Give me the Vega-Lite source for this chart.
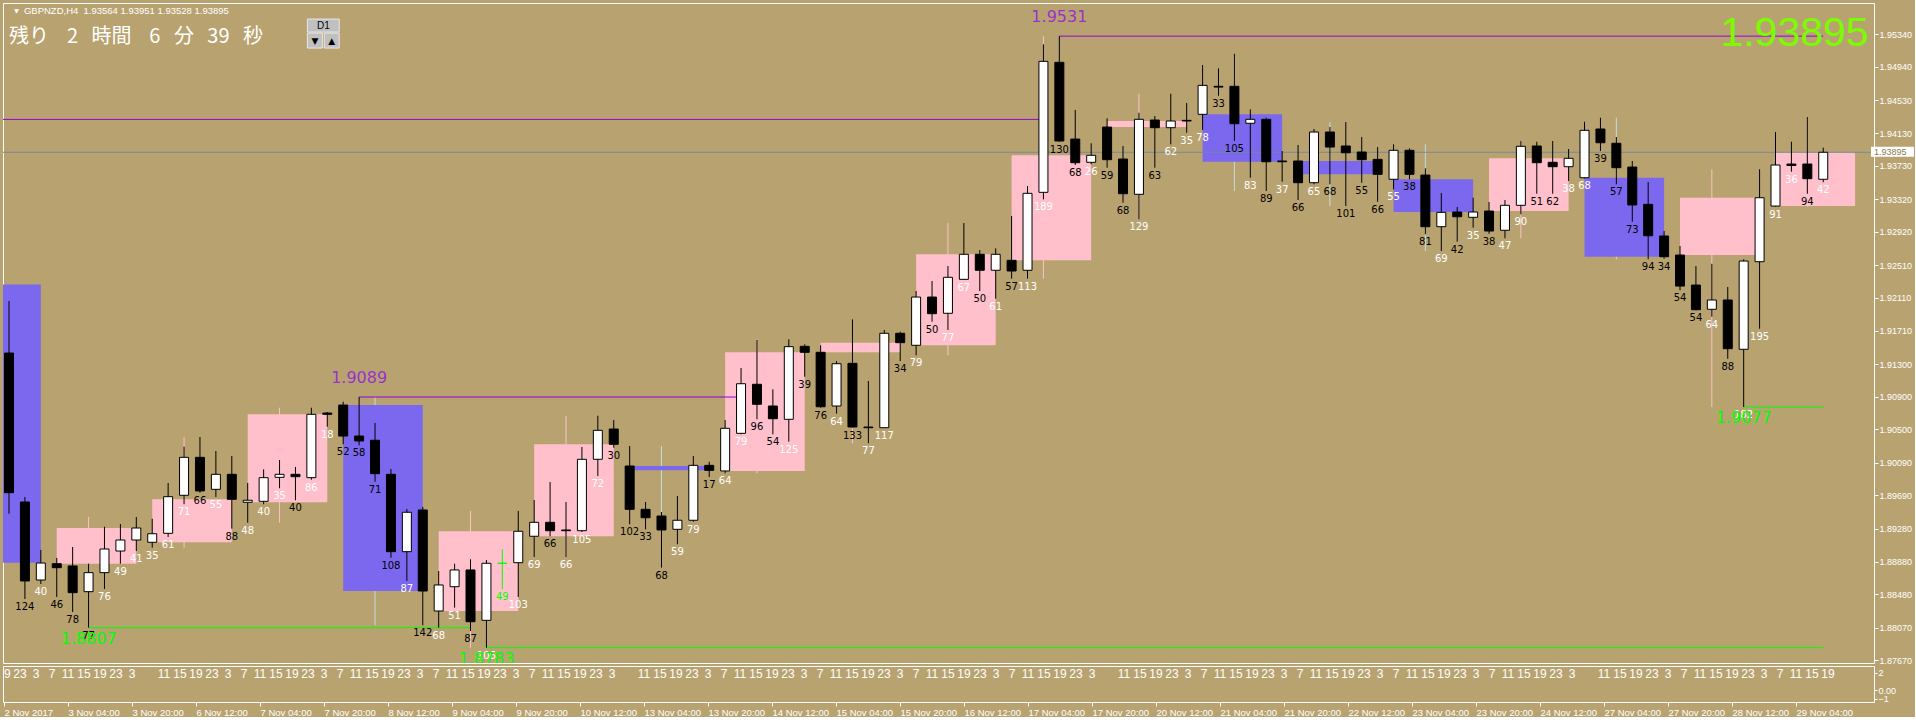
{
"$schema": "https://vega.github.io/schema/vega-lite/v6.json",
"background": "#B8A370",
"padding": {"left": 2, "top": 2, "right": 0, "bottom": 0},
"bounds": "flush",
"spacing": 3,
"config": {"view": {"stroke": "#FFFFFF", "strokeWidth": 1}, "axis": {"grid": false}},
"datasets": {
"bars": [
{"i":0,"o":1.91435,"h":1.92072,"l":1.89466,"c":1.89724},
{"i":1,"o":1.89610,"h":1.89671,"l":1.88421,"c":1.88642,"v":"124","d":"down"},
{"i":2,"o":1.88654,"h":1.89022,"l":1.88605,"c":1.88862,"v":"40","d":"up"},
{"i":3,"o":1.88854,"h":1.88924,"l":1.88446,"c":1.88805,"v":"46","d":"down"},
{"i":4,"o":1.88826,"h":1.89058,"l":1.88262,"c":1.88499,"v":"78","d":"down"},
{"i":5,"o":1.88511,"h":1.88854,"l":1.88070,"c":1.88744,"v":"77","d":"down"},
{"i":6,"o":1.88744,"h":1.89307,"l":1.88544,"c":1.89034,"v":"76","d":"up"},
{"i":7,"o":1.89009,"h":1.89340,"l":1.88854,"c":1.89144,"v":"49","d":"up"},
{"i":8,"o":1.89144,"h":1.89426,"l":1.89009,"c":1.89291,"v":"41","d":"up"},
{"i":9,"o":1.89116,"h":1.89405,"l":1.89050,"c":1.89221,"v":"35","d":"up"},
{"i":10,"o":1.89226,"h":1.89843,"l":1.89181,"c":1.89675,"v":"61","d":"up"},
{"i":11,"o":1.89692,"h":1.90287,"l":1.89582,"c":1.90157,"v":"71","d":"up"},
{"i":12,"o":1.90157,"h":1.90406,"l":1.89724,"c":1.89745,"v":"66","d":"down"},
{"i":13,"o":1.89765,"h":1.90235,"l":1.89671,"c":1.89949,"v":"55","d":"up"},
{"i":14,"o":1.89949,"h":1.90173,"l":1.89283,"c":1.89643,"v":"88","d":"down"},
{"i":15,"o":1.89606,"h":1.89843,"l":1.89356,"c":1.89631,"v":"48","d":"up"},
{"i":16,"o":1.89618,"h":1.90010,"l":1.89582,"c":1.89908,"v":"40","d":"up"},
{"i":17,"o":1.89912,"h":1.90124,"l":1.89778,"c":1.89949,"v":"35","d":"up"},
{"i":18,"o":1.89949,"h":1.90039,"l":1.89631,"c":1.89920,"v":"40","d":"down"},
{"i":19,"o":1.89908,"h":1.90765,"l":1.89883,"c":1.90684,"v":"86","d":"up"},
{"i":20,"o":1.90700,"h":1.90712,"l":1.90532,"c":1.90684,"v":"18","d":"up"},
{"i":21,"o":1.90798,"h":1.90839,"l":1.90317,"c":1.90418,"v":"52","d":"down"},
{"i":22,"o":1.90418,"h":1.90896,"l":1.90304,"c":1.90357,"v":"58","d":"down"},
{"i":23,"o":1.90366,"h":1.90578,"l":1.89859,"c":1.89957,"v":"71","d":"down"},
{"i":24,"o":1.89949,"h":1.90014,"l":1.88927,"c":1.89001,"v":"108","d":"down"},
{"i":25,"o":1.89001,"h":1.89524,"l":1.88642,"c":1.89484,"v":"87","d":"up"},
{"i":26,"o":1.89512,"h":1.89549,"l":1.88099,"c":1.88519,"v":"142","d":"down"},
{"i":27,"o":1.88274,"h":1.88764,"l":1.88070,"c":1.88593,"v":"68","d":"up"},
{"i":28,"o":1.88572,"h":1.88854,"l":1.88315,"c":1.88777,"v":"51","d":"up"},
{"i":29,"o":1.88777,"h":1.88908,"l":1.88029,"c":1.88143,"v":"87","d":"down"},
{"i":30,"o":1.88160,"h":1.88899,"l":1.87825,"c":1.88859,"v":"106","d":"up"},
{"i":31,"o":1.88859,"h":1.89030,"l":1.88540,"c":1.88859,"v":"49","d":"sig","sig":true},
{"i":32,"o":1.88866,"h":1.89500,"l":1.88446,"c":1.89251,"v":"103","d":"up"},
{"i":33,"o":1.89190,"h":1.89634,"l":1.88936,"c":1.89361,"v":"69","d":"up"},
{"i":34,"o":1.89361,"h":1.89855,"l":1.89190,"c":1.89258,"v":"66","d":"down"},
{"i":35,"o":1.89267,"h":1.89610,"l":1.88936,"c":1.89258,"v":"66","d":"up"},
{"i":36,"o":1.89258,"h":1.90284,"l":1.89242,"c":1.90133,"v":"105","d":"up"},
{"i":37,"o":1.90133,"h":1.90667,"l":1.89928,"c":1.90488,"v":"72","d":"up"},
{"i":38,"o":1.90504,"h":1.90614,"l":1.90275,"c":1.90317,"v":"30","d":"down"},
{"i":39,"o":1.90051,"h":1.90296,"l":1.89337,"c":1.89520,"v":"102","d":"down"},
{"i":40,"o":1.89520,"h":1.89610,"l":1.89275,"c":1.89417,"v":"33","d":"down"},
{"i":41,"o":1.89438,"h":1.89487,"l":1.88805,"c":1.89267,"v":"68","d":"down"},
{"i":42,"o":1.89275,"h":1.89683,"l":1.89092,"c":1.89386,"v":"59","d":"up"},
{"i":43,"o":1.89386,"h":1.90173,"l":1.89368,"c":1.90059,"v":"79","d":"up"},
{"i":44,"o":1.90059,"h":1.90103,"l":1.89916,"c":1.89998,"v":"17","d":"down"},
{"i":45,"o":1.89990,"h":1.90614,"l":1.89961,"c":1.90513,"v":"64","d":"up"},
{"i":46,"o":1.90451,"h":1.91252,"l":1.90440,"c":1.91059,"v":"79","d":"up"},
{"i":47,"o":1.91052,"h":1.91595,"l":1.90623,"c":1.90807,"v":"96","d":"down"},
{"i":48,"o":1.90786,"h":1.90991,"l":1.90439,"c":1.90630,"v":"54","d":"down"},
{"i":49,"o":1.90623,"h":1.91603,"l":1.90349,"c":1.91513,"v":"125","d":"up"},
{"i":50,"o":1.91517,"h":1.91542,"l":1.91145,"c":1.91444,"v":"39","d":"down"},
{"i":51,"o":1.91444,"h":1.91530,"l":1.90765,"c":1.90777,"v":"76","d":"down"},
{"i":52,"o":1.90786,"h":1.91337,"l":1.90692,"c":1.91304,"v":"64","d":"up"},
{"i":53,"o":1.91309,"h":1.91848,"l":1.90520,"c":1.90529,"v":"133","d":"down"},
{"i":54,"o":1.90528,"h":1.91092,"l":1.90329,"c":1.90520,"v":"77","d":"up"},
{"i":55,"o":1.90520,"h":1.91717,"l":1.90516,"c":1.91677,"v":"117","d":"up"},
{"i":56,"o":1.91677,"h":1.91696,"l":1.91337,"c":1.91562,"v":"34","d":"down"},
{"i":57,"o":1.91530,"h":1.92195,"l":1.91407,"c":1.92121,"v":"79","d":"up"},
{"i":58,"o":1.92121,"h":1.92317,"l":1.91819,"c":1.91917,"v":"50","d":"down"},
{"i":59,"o":1.91922,"h":1.92501,"l":1.91717,"c":1.92363,"v":"77","d":"up"},
{"i":60,"o":1.92338,"h":1.93028,"l":1.92330,"c":1.92645,"v":"67","d":"up"},
{"i":61,"o":1.92645,"h":1.92697,"l":1.92195,"c":1.92449,"v":"50","d":"down"},
{"i":62,"o":1.92449,"h":1.92718,"l":1.92101,"c":1.92645,"v":"61","d":"up"},
{"i":63,"o":1.92571,"h":1.93114,"l":1.92346,"c":1.92440,"v":"57","d":"down"},
{"i":64,"o":1.92449,"h":1.93481,"l":1.92346,"c":1.93392,"v":"113","d":"up"},
{"i":65,"o":1.93404,"h":1.95218,"l":1.93318,"c":1.95009,"v":"189","d":"up"},
{"i":66,"o":1.94997,"h":1.95318,"l":1.94025,"c":1.94033,"v":"130","d":"down"},
{"i":67,"o":1.94057,"h":1.94413,"l":1.93739,"c":1.93767,"v":"68","d":"down"},
{"i":68,"o":1.93772,"h":1.94005,"l":1.93747,"c":1.93858,"v":"26","d":"up"},
{"i":69,"o":1.94204,"h":1.94311,"l":1.93706,"c":1.93804,"v":"59","d":"down"},
{"i":70,"o":1.93812,"h":1.93972,"l":1.93277,"c":1.93387,"v":"68","d":"down"},
{"i":71,"o":1.93380,"h":1.94379,"l":1.93073,"c":1.94299,"v":"129","d":"up"},
{"i":72,"o":1.94290,"h":1.94339,"l":1.93706,"c":1.94196,"v":"63","d":"down"},
{"i":73,"o":1.94196,"h":1.94612,"l":1.93992,"c":1.94278,"v":"62","d":"up"},
{"i":74,"o":1.94286,"h":1.94498,"l":1.94134,"c":1.94278,"v":"35","d":"up"},
{"i":75,"o":1.94360,"h":1.94964,"l":1.94168,"c":1.94715,"v":"78","d":"up"},
{"i":76,"o":1.94703,"h":1.94923,"l":1.94588,"c":1.94694,"v":"33","d":"down"},
{"i":77,"o":1.94703,"h":1.95102,"l":1.94033,"c":1.94245,"v":"105","d":"down"},
{"i":78,"o":1.94250,"h":1.94421,"l":1.93583,"c":1.94299,"v":"83","d":"up"},
{"i":79,"o":1.94299,"h":1.94318,"l":1.93420,"c":1.93779,"v":"89","d":"down"},
{"i":80,"o":1.93788,"h":1.93910,"l":1.93534,"c":1.93779,"v":"37","d":"up"},
{"i":81,"o":1.93788,"h":1.93984,"l":1.93310,"c":1.93522,"v":"66","d":"down"},
{"i":82,"o":1.93522,"h":1.94180,"l":1.93502,"c":1.94143,"v":"65","d":"up"},
{"i":83,"o":1.94143,"h":1.94204,"l":1.93502,"c":1.93959,"v":"68","d":"down"},
{"i":84,"o":1.93972,"h":1.94265,"l":1.93236,"c":1.93889,"v":"101","d":"down"},
{"i":85,"o":1.93898,"h":1.94082,"l":1.93522,"c":1.93804,"v":"55","d":"down"},
{"i":86,"o":1.93808,"h":1.93959,"l":1.93289,"c":1.93625,"v":"66","d":"down"},
{"i":87,"o":1.93564,"h":1.93992,"l":1.93441,"c":1.93919,"v":"55","d":"up"},
{"i":88,"o":1.93919,"h":1.93943,"l":1.93564,"c":1.93625,"v":"38","d":"down"},
{"i":89,"o":1.93616,"h":1.93698,"l":1.92890,"c":1.92983,"v":"81","d":"down"},
{"i":90,"o":1.92983,"h":1.93396,"l":1.92685,"c":1.93159,"v":"69","d":"up"},
{"i":91,"o":1.93163,"h":1.93224,"l":1.92799,"c":1.93105,"v":"42","d":"down"},
{"i":92,"o":1.93098,"h":1.93338,"l":1.92971,"c":1.93163,"v":"35","d":"up"},
{"i":93,"o":1.93175,"h":1.93285,"l":1.92897,"c":1.92930,"v":"38","d":"down"},
{"i":94,"o":1.92939,"h":1.93310,"l":1.92841,"c":1.93245,"v":"47","d":"up"},
{"i":95,"o":1.93245,"h":1.94033,"l":1.93135,"c":1.93968,"v":"90","d":"up"},
{"i":96,"o":1.93972,"h":1.94024,"l":1.93387,"c":1.93767,"v":"51","d":"down"},
{"i":97,"o":1.93772,"h":1.94033,"l":1.93387,"c":1.93718,"v":"62","d":"down"},
{"i":98,"o":1.93718,"h":1.93935,"l":1.93543,"c":1.93821,"v":"38","d":"up"},
{"i":99,"o":1.93583,"h":1.94269,"l":1.93575,"c":1.94164,"v":"68","d":"up"},
{"i":100,"o":1.94180,"h":1.94318,"l":1.93910,"c":1.94012,"v":"39","d":"down"},
{"i":101,"o":1.94005,"h":1.94082,"l":1.93502,"c":1.93706,"v":"57","d":"down"},
{"i":102,"o":1.93714,"h":1.93788,"l":1.93044,"c":1.93249,"v":"73","d":"down"},
{"i":103,"o":1.93257,"h":1.93530,"l":1.92583,"c":1.92872,"v":"94","d":"down"},
{"i":104,"o":1.92869,"h":1.92930,"l":1.92591,"c":1.92615,"v":"34","d":"down"},
{"i":105,"o":1.92636,"h":1.92746,"l":1.92204,"c":1.92256,"v":"54","d":"down"},
{"i":106,"o":1.92268,"h":1.92501,"l":1.91958,"c":1.91966,"v":"54","d":"down"},
{"i":107,"o":1.91971,"h":1.92529,"l":1.91880,"c":1.92085,"v":"64","d":"up"},
{"i":108,"o":1.92085,"h":1.92244,"l":1.91365,"c":1.91488,"v":"88","d":"down"},
{"i":109,"o":1.91481,"h":1.92583,"l":1.90774,"c":1.92562,"v":"182","d":"up"},
{"i":110,"o":1.92554,"h":1.93686,"l":1.91733,"c":1.93338,"v":"195","d":"up"},
{"i":111,"o":1.93236,"h":1.94143,"l":1.93230,"c":1.93739,"v":"91","d":"up"},
{"i":112,"o":1.93751,"h":1.94024,"l":1.93657,"c":1.93733,"v":"36","d":"up"},
{"i":113,"o":1.93751,"h":1.94327,"l":1.93387,"c":1.93571,"v":"94","d":"down"},
{"i":114,"o":1.93564,"h":1.93951,"l":1.93528,"c":1.93895,"v":"42","d":"up"}
],
"days": [
{"s":-3,"e":2,"w":-1,"o":1.92275,"h":1.93000,"l":1.88421,"c":1.88866},
{"s":3,"e":8,"w":5,"o":1.88854,"h":1.89426,"l":1.88070,"c":1.89291},
{"s":9,"e":14,"w":11,"o":1.89116,"h":1.90406,"l":1.89050,"c":1.89643},
{"s":15,"e":20,"w":17,"o":1.89606,"h":1.90765,"l":1.89356,"c":1.90684},
{"s":21,"e":26,"w":23,"o":1.90798,"h":1.90896,"l":1.88099,"c":1.88519},
{"s":27,"e":32,"w":29,"o":1.88274,"h":1.89500,"l":1.87825,"c":1.89251},
{"s":33,"e":38,"w":35,"o":1.89190,"h":1.90667,"l":1.88936,"c":1.90317},
{"s":39,"e":44,"w":41,"o":1.90051,"h":1.90296,"l":1.88805,"c":1.89998},
{"s":45,"e":50,"w":47,"o":1.89990,"h":1.91603,"l":1.89961,"c":1.91444},
{"s":51,"e":56,"w":53,"o":1.91444,"h":1.91848,"l":1.90329,"c":1.91562},
{"s":57,"e":62,"w":59,"o":1.91530,"h":1.93028,"l":1.91407,"c":1.92645},
{"s":63,"e":68,"w":65,"o":1.92571,"h":1.95318,"l":1.92346,"c":1.93858},
{"s":69,"e":74,"w":71,"o":1.94204,"h":1.94612,"l":1.93073,"c":1.94278},
{"s":75,"e":80,"w":77,"o":1.94360,"h":1.95102,"l":1.93420,"c":1.93779},
{"s":81,"e":86,"w":83,"o":1.93788,"h":1.94265,"l":1.93236,"c":1.93625},
{"s":87,"e":92,"w":89,"o":1.93564,"h":1.93992,"l":1.92685,"c":1.93163},
{"s":93,"e":98,"w":95,"o":1.93175,"h":1.94033,"l":1.92841,"c":1.93821},
{"s":99,"e":104,"w":101,"o":1.93583,"h":1.94318,"l":1.92583,"c":1.92615},
{"s":105,"e":110,"w":107,"o":1.92636,"h":1.93686,"l":1.90774,"c":1.93338},
{"s":111,"e":116,"w":113,"o":1.93236,"h":1.94327,"l":1.93230,"c":1.93895}
],
"levels": [
{"kind":"res","p":1.95318,"s":66,"e":114,"lab":"1.9531"},
{"kind":"res","p":1.94298,"s":-1,"e":65,"lab":""},
{"kind":"res","p":1.90896,"s":22,"e":46,"lab":"1.9089"},
{"kind":"sup","p":1.88070,"s":5,"e":29,"lab":"1.8807"},
{"kind":"sup","p":1.87825,"s":30,"e":114,"lab":"1.8783"},
{"kind":"sup","p":1.90774,"s":109,"e":114,"lab":"1.9077"}
],
"hours": [
{"i":0,"t":"19"},{"i":1,"t":"23"},{"i":2,"t":"3"},{"i":3,"t":"7"},{"i":4,"t":"11"},{"i":5,"t":"15"},{"i":6,"t":"19"},{"i":7,"t":"23"},{"i":8,"t":"3"},
{"i":10,"t":"11"},{"i":11,"t":"15"},{"i":12,"t":"19"},{"i":13,"t":"23"},{"i":14,"t":"3"},{"i":15,"t":"7"},{"i":16,"t":"11"},{"i":17,"t":"15"},{"i":18,"t":"19"},{"i":19,"t":"23"},{"i":20,"t":"3"},
{"i":21,"t":"7"},{"i":22,"t":"11"},{"i":23,"t":"15"},{"i":24,"t":"19"},{"i":25,"t":"23"},{"i":26,"t":"3"},{"i":27,"t":"7"},{"i":28,"t":"11"},{"i":29,"t":"15"},{"i":30,"t":"19"},
{"i":31,"t":"23"},{"i":32,"t":"3"},{"i":33,"t":"7"},{"i":34,"t":"11"},{"i":35,"t":"15"},{"i":36,"t":"19"},{"i":37,"t":"23"},{"i":38,"t":"3"},
{"i":40,"t":"11"},{"i":41,"t":"15"},{"i":42,"t":"19"},{"i":43,"t":"23"},{"i":44,"t":"3"},{"i":45,"t":"7"},{"i":46,"t":"11"},{"i":47,"t":"15"},{"i":48,"t":"19"},{"i":49,"t":"23"},{"i":50,"t":"3"},
{"i":51,"t":"7"},{"i":52,"t":"11"},{"i":53,"t":"15"},{"i":54,"t":"19"},{"i":55,"t":"23"},{"i":56,"t":"3"},{"i":57,"t":"7"},{"i":58,"t":"11"},{"i":59,"t":"15"},{"i":60,"t":"19"},
{"i":61,"t":"23"},{"i":62,"t":"3"},{"i":63,"t":"7"},{"i":64,"t":"11"},{"i":65,"t":"15"},{"i":66,"t":"19"},{"i":67,"t":"23"},{"i":68,"t":"3"},
{"i":70,"t":"11"},{"i":71,"t":"15"},{"i":72,"t":"19"},{"i":73,"t":"23"},{"i":74,"t":"3"},{"i":75,"t":"7"},{"i":76,"t":"11"},{"i":77,"t":"15"},{"i":78,"t":"19"},{"i":79,"t":"23"},{"i":80,"t":"3"},
{"i":81,"t":"7"},{"i":82,"t":"11"},{"i":83,"t":"15"},{"i":84,"t":"19"},{"i":85,"t":"23"},{"i":86,"t":"3"},{"i":87,"t":"7"},{"i":88,"t":"11"},{"i":89,"t":"15"},{"i":90,"t":"19"},
{"i":91,"t":"23"},{"i":92,"t":"3"},{"i":93,"t":"7"},{"i":94,"t":"11"},{"i":95,"t":"15"},{"i":96,"t":"19"},{"i":97,"t":"23"},{"i":98,"t":"3"},
{"i":100,"t":"11"},{"i":101,"t":"15"},{"i":102,"t":"19"},{"i":103,"t":"23"},{"i":104,"t":"3"},{"i":105,"t":"7"},{"i":106,"t":"11"},{"i":107,"t":"15"},{"i":108,"t":"19"},{"i":109,"t":"23"},{"i":110,"t":"3"},
{"i":111,"t":"7"},{"i":112,"t":"11"},{"i":113,"t":"15"},{"i":114,"t":"19"}
]
},
"vconcat": [
{
"width": 1871,
"height": 660,
"resolve": {"axis": {"x": "independent", "y": "independent"}},
"layer": [
{"data": {"name": "days"}, "mark": {"type": "rule", "clip": true, "strokeWidth": 1},
 "encoding": {
  "x": {"field": "w", "type": "quantitative", "scale": {"domain": [-0.0625, 116.875], "nice": false, "zero": false}, "axis": null},
  "y": {"field": "l", "type": "quantitative", "scale": {"domain": [1.87637, 1.95724], "nice": false, "zero": false},
        "axis": {"orient": "right", "title": null, "values": [1.9534,1.9494,1.9453,1.9413,1.9373,1.9332,1.9292,1.9251,1.9211,1.9171,1.913,1.909,1.905,1.9009,1.8969,1.8928,1.8888,1.8848,1.8807,1.8767],
                 "format": ".5f", "tickSize": 4, "tickColor": "#FFFFFF", "labelColor": "#FFFFFF", "labelFont": "Liberation Sans", "labelFontSize": 9,
                 "labelPadding": 1, "domain": false, "grid": false, "labelOverlap": false, "labelBound": false, "labelFlush": false}},
  "y2": {"field": "h"},
  "stroke": {"condition": {"test": "datum.c > datum.o", "value": "#FFC0CB"}, "value": "#C4DCDC"}}},
{"data": {"name": "days"}, "mark": {"type": "rect", "clip": true},
 "encoding": {
  "x": {"field": "s", "type": "quantitative", "scale": {"domain": [-0.0625, 116.875], "nice": false, "zero": false}, "axis": null},
  "x2": {"field": "e"},
  "y": {"field": "o", "type": "quantitative", "scale": {"domain": [1.87637, 1.95724], "nice": false, "zero": false}, "axis": null},
  "y2": {"field": "c"},
  "fill": {"condition": {"test": "datum.c > datum.o", "value": "#FFC0CB"}, "value": "#7B68EE"}}},
{"data": {"values": [{}]}, "mark": {"type": "rule", "stroke": "#778899", "strokeWidth": 1, "clip": true},
 "encoding": {"y": {"datum": 1.93895, "type": "quantitative", "scale": {"domain": [1.87637, 1.95724], "nice": false, "zero": false}, "axis": null}}},
{"data": {"name": "levels"}, "mark": {"type": "rule", "strokeWidth": 1, "clip": true},
 "encoding": {
  "x": {"field": "s", "type": "quantitative", "scale": {"domain": [-0.0625, 116.875], "nice": false, "zero": false}, "axis": null},
  "x2": {"field": "e"},
  "y": {"field": "p", "type": "quantitative", "scale": {"domain": [1.87637, 1.95724], "nice": false, "zero": false}, "axis": null},
  "stroke": {"field": "kind", "type": "nominal", "scale": {"domain": ["res", "sup"], "range": ["#9400D3", "#00FF00"]}, "legend": null}}},
{"data": {"name": "bars"}, "mark": {"type": "rule", "strokeWidth": 1, "clip": true},
 "encoding": {
  "x": {"field": "i", "type": "quantitative", "scale": {"domain": [-0.0625, 116.875], "nice": false, "zero": false}, "axis": null},
  "y": {"field": "l", "type": "quantitative", "scale": {"domain": [1.87637, 1.95724], "nice": false, "zero": false}, "axis": null},
  "y2": {"field": "h"},
  "stroke": {"condition": {"test": "datum.sig", "value": "#00FF00"}, "value": "#000000"}}},
{"data": {"name": "bars"}, "mark": {"type": "bar", "size": 9, "strokeWidth": 1, "clip": true},
 "encoding": {
  "x": {"field": "i", "type": "quantitative", "scale": {"domain": [-0.0625, 116.875], "nice": false, "zero": false}, "axis": null},
  "y": {"field": "o", "type": "quantitative", "scale": {"domain": [1.87637, 1.95724], "nice": false, "zero": false}, "axis": null},
  "y2": {"field": "c"},
  "fill": {"condition": [{"test": "datum.sig", "value": "#00FF00"}, {"test": "datum.c > datum.o", "value": "#FFFFFF"}], "value": "#000000"},
  "stroke": {"condition": {"test": "datum.sig", "value": "#00FF00"}, "value": "#000000"}}},
{"data": {"name": "bars"}, "transform": [{"filter": "isValid(datum.v)"}],
 "mark": {"type": "text", "dy": 8, "baseline": "middle", "align": "center", "font": "DejaVu Sans", "fontSize": 10, "clip": true},
 "encoding": {
  "x": {"field": "i", "type": "quantitative", "scale": {"domain": [-0.0625, 116.875], "nice": false, "zero": false}, "axis": null},
  "y": {"field": "l", "type": "quantitative", "scale": {"domain": [1.87637, 1.95724], "nice": false, "zero": false}, "axis": null},
  "text": {"field": "v"},
  "fill": {"field": "d", "type": "nominal", "scale": {"domain": ["up", "down", "sig"], "range": ["#FFFFFF", "#000000", "#00FF00"]}, "legend": null}}},
{"data": {"name": "levels"}, "transform": [{"filter": "datum.kind === 'res' && datum.lab !== ''"}],
 "mark": {"type": "text", "dy": -19, "baseline": "middle", "align": "center", "font": "DejaVu Sans", "fontSize": 16, "fill": "#9932CC", "clip": true},
 "encoding": {
  "x": {"field": "s", "type": "quantitative", "scale": {"domain": [-0.0625, 116.875], "nice": false, "zero": false}, "axis": null},
  "y": {"field": "p", "type": "quantitative", "scale": {"domain": [1.87637, 1.95724], "nice": false, "zero": false}, "axis": null},
  "text": {"field": "lab"}}},
{"data": {"name": "levels"}, "transform": [{"filter": "datum.kind === 'sup'"}],
 "mark": {"type": "text", "dy": 11, "baseline": "middle", "align": "center", "font": "DejaVu Sans", "fontSize": 16, "fill": "#00FF00", "clip": true},
 "encoding": {
  "x": {"field": "s", "type": "quantitative", "scale": {"domain": [-0.0625, 116.875], "nice": false, "zero": false}, "axis": null},
  "y": {"field": "p", "type": "quantitative", "scale": {"domain": [1.87637, 1.95724], "nice": false, "zero": false}, "axis": null},
  "text": {"field": "lab"}}},
{"data": {"values": [{}]}, "mark": {"type": "text", "align": "right", "baseline": "middle", "font": "Liberation Sans", "fontSize": 41, "fill": "#7CFC00", "text": "1.93895"},
 "encoding": {"x": {"datum": 116.85, "type": "quantitative", "scale": {"domain": [-0.0625, 116.875], "nice": false, "zero": false}, "axis": null},
              "y": {"datum": 1.95344, "type": "quantitative", "scale": {"domain": [1.87637, 1.95724], "nice": false, "zero": false}, "axis": null}}},
{"data": {"values": [{}]}, "mark": {"type": "text", "align": "left", "baseline": "middle", "font": "Liberation Sans", "fontSize": 9.5, "fill": "#FFFFFF", "text": "GBPNZD,H4\u00a0\u00a01.93564 1.93951 1.93528 1.93895"},
 "encoding": {"x": {"datum": 0.9375, "type": "quantitative", "scale": {"domain": [-0.0625, 116.875], "nice": false, "zero": false}, "axis": null},
              "y": {"datum": 1.95625, "type": "quantitative", "scale": {"domain": [1.87637, 1.95724], "nice": false, "zero": false}, "axis": null}}},
{"data": {"values": [{}]}, "mark": {"type": "text", "align": "center", "baseline": "middle", "font": "DejaVu Sans", "fontSize": 6, "fill": "#FFFFFF", "text": "▼"},
 "encoding": {"x": {"datum": 0.47, "type": "quantitative", "scale": {"domain": [-0.0625, 116.875], "nice": false, "zero": false}, "axis": null},
              "y": {"datum": 1.95625, "type": "quantitative", "scale": {"domain": [1.87637, 1.95724], "nice": false, "zero": false}, "axis": null}}},
{"data": {"values": [{}]}, "mark": {"type": "text", "align": "left", "baseline": "middle", "font": "Noto Sans CJK JP", "fontSize": 20, "fill": "#FFFFFF", "text": "残り\u00a0\u00a0\u00a0\u00a02\u00a0\u00a0\u00a0時間\u00a0\u00a0\u00a0\u00a06\u00a0\u00a0\u00a0分\u00a0\u00a0\u00a039\u00a0\u00a0\u00a0秒"},
 "encoding": {"x": {"datum": 0.0, "type": "quantitative", "scale": {"domain": [-0.0625, 116.875], "nice": false, "zero": false}, "axis": null},
              "y": {"datum": 1.95307, "type": "quantitative", "scale": {"domain": [1.87637, 1.95724], "nice": false, "zero": false}, "axis": null}}},
{"data": {"values": [{}]}, "mark": {"type": "rect", "fill": "#C0C0C0", "stroke": "#E8E8E8", "strokeWidth": 1},
 "encoding": {"x": {"datum": 18.75, "type": "quantitative", "scale": {"domain": [-0.0625, 116.875], "nice": false, "zero": false}, "axis": null}, "x2": {"datum": 20.75},
              "y": {"datum": 1.95527, "type": "quantitative", "scale": {"domain": [1.87637, 1.95724], "nice": false, "zero": false}, "axis": null}, "y2": {"datum": 1.95368}}},
{"data": {"values": [{}]}, "mark": {"type": "text", "align": "center", "baseline": "middle", "font": "Liberation Sans", "fontSize": 10, "fill": "#000000", "text": "D1"},
 "encoding": {"x": {"datum": 19.75, "type": "quantitative", "scale": {"domain": [-0.0625, 116.875], "nice": false, "zero": false}, "axis": null},
              "y": {"datum": 1.95448, "type": "quantitative", "scale": {"domain": [1.87637, 1.95724], "nice": false, "zero": false}, "axis": null}}},
{"data": {"values": [{}]}, "mark": {"type": "rect", "fill": "#C0C0C0", "stroke": "#E8E8E8", "strokeWidth": 1},
 "encoding": {"x": {"datum": 18.75, "type": "quantitative", "scale": {"domain": [-0.0625, 116.875], "nice": false, "zero": false}, "axis": null}, "x2": {"datum": 19.69},
              "y": {"datum": 1.95356, "type": "quantitative", "scale": {"domain": [1.87637, 1.95724], "nice": false, "zero": false}, "axis": null}, "y2": {"datum": 1.95172}}},
{"data": {"values": [{}]}, "mark": {"type": "rect", "fill": "#C0C0C0", "stroke": "#E8E8E8", "strokeWidth": 1},
 "encoding": {"x": {"datum": 19.81, "type": "quantitative", "scale": {"domain": [-0.0625, 116.875], "nice": false, "zero": false}, "axis": null}, "x2": {"datum": 20.75},
              "y": {"datum": 1.95356, "type": "quantitative", "scale": {"domain": [1.87637, 1.95724], "nice": false, "zero": false}, "axis": null}, "y2": {"datum": 1.95172}}},
{"data": {"values": [{}]}, "mark": {"type": "text", "align": "center", "baseline": "middle", "font": "DejaVu Sans", "fontSize": 9, "fill": "#000000", "text": "▼"},
 "encoding": {"x": {"datum": 19.22, "type": "quantitative", "scale": {"domain": [-0.0625, 116.875], "nice": false, "zero": false}, "axis": null},
              "y": {"datum": 1.95264, "type": "quantitative", "scale": {"domain": [1.87637, 1.95724], "nice": false, "zero": false}, "axis": null}}},
{"data": {"values": [{}]}, "mark": {"type": "text", "align": "center", "baseline": "middle", "font": "DejaVu Sans", "fontSize": 9, "fill": "#000000", "text": "▲"},
 "encoding": {"x": {"datum": 20.28, "type": "quantitative", "scale": {"domain": [-0.0625, 116.875], "nice": false, "zero": false}, "axis": null},
              "y": {"datum": 1.95264, "type": "quantitative", "scale": {"domain": [1.87637, 1.95724], "nice": false, "zero": false}, "axis": null}}},
{"data": {"values": [{}]}, "mark": {"type": "rect", "fill": "#FFFFFF", "clip": false},
 "encoding": {"x": {"datum": 117.0, "type": "quantitative", "scale": {"domain": [-0.0625, 116.875], "nice": false, "zero": false}, "axis": null}, "x2": {"datum": 119.7},
              "y": {"datum": 1.93963, "type": "quantitative", "scale": {"domain": [1.87637, 1.95724], "nice": false, "zero": false}, "axis": null}, "y2": {"datum": 1.9384}}},
{"data": {"values": [{}]}, "mark": {"type": "text", "align": "left", "baseline": "middle", "font": "Liberation Sans", "fontSize": 9, "fill": "#8C7A50", "text": "1.93895", "clip": false},
 "encoding": {"x": {"datum": 117.19, "type": "quantitative", "scale": {"domain": [-0.0625, 116.875], "nice": false, "zero": false}, "axis": null},
              "y": {"datum": 1.93895, "type": "quantitative", "scale": {"domain": [1.87637, 1.95724], "nice": false, "zero": false}, "axis": null}}}
]
},
{
"width": 1871,
"height": 36,
"data": {"name": "hours"},
"mark": {"type": "text", "clip": true, "align": "center", "baseline": "middle", "font": "Liberation Sans", "fontSize": 12, "fill": "#FFFFFF"},
"encoding": {
 "x": {"field": "i", "type": "quantitative", "scale": {"domain": [-0.0625, 116.875], "nice": false, "zero": false},
       "axis": {"orient": "bottom", "title": null, "values": [0,4,8,12,16,20,24,28,32,36,40,44,48,52,56,60,64,68,72,76,80,84,88,92,96,100,104,108,112],
                "labelExpr": "['2 Nov 2017','3 Nov 04:00','3 Nov 20:00','6 Nov 12:00','7 Nov 04:00','7 Nov 20:00','8 Nov 12:00','9 Nov 04:00','9 Nov 20:00','10 Nov 12:00','13 Nov 04:00','13 Nov 20:00','14 Nov 12:00','15 Nov 04:00','15 Nov 20:00','16 Nov 12:00','17 Nov 04:00','17 Nov 20:00','20 Nov 12:00','21 Nov 04:00','21 Nov 20:00','22 Nov 12:00','23 Nov 04:00','23 Nov 20:00','24 Nov 12:00','27 Nov 04:00','27 Nov 20:00','28 Nov 12:00','29 Nov 04:00'][round(datum.value/4)]",
                "tickSize": 4, "tickColor": "#FFFFFF", "labelColor": "#FFFFFF", "labelFont": "Liberation Sans", "labelFontSize": 9.5,
                "labelAlign": "left", "labelBaseline": "top", "labelPadding": 1, "labelDx": -1, "domain": false, "grid": false,
                "labelOverlap": false, "labelBound": false, "labelFlush": false}},
 "y": {"datum": 1.9, "type": "quantitative", "scale": {"domain": [-1.41, 2.82], "nice": false, "zero": false},
       "axis": {"orient": "right", "title": null, "values": [2, 0, -1], "labelExpr": "datum.value == 0 ? '0.00' : datum.label",
                "tickSize": 3, "tickColor": "#FFFFFF", "labelColor": "#FFFFFF", "labelFont": "Liberation Sans", "labelFontSize": 9,
                "labelPadding": 1, "domain": false, "grid": false, "labelOverlap": false, "labelBound": false, "labelFlush": false}},
 "text": {"field": "t"}}
}
]
}
